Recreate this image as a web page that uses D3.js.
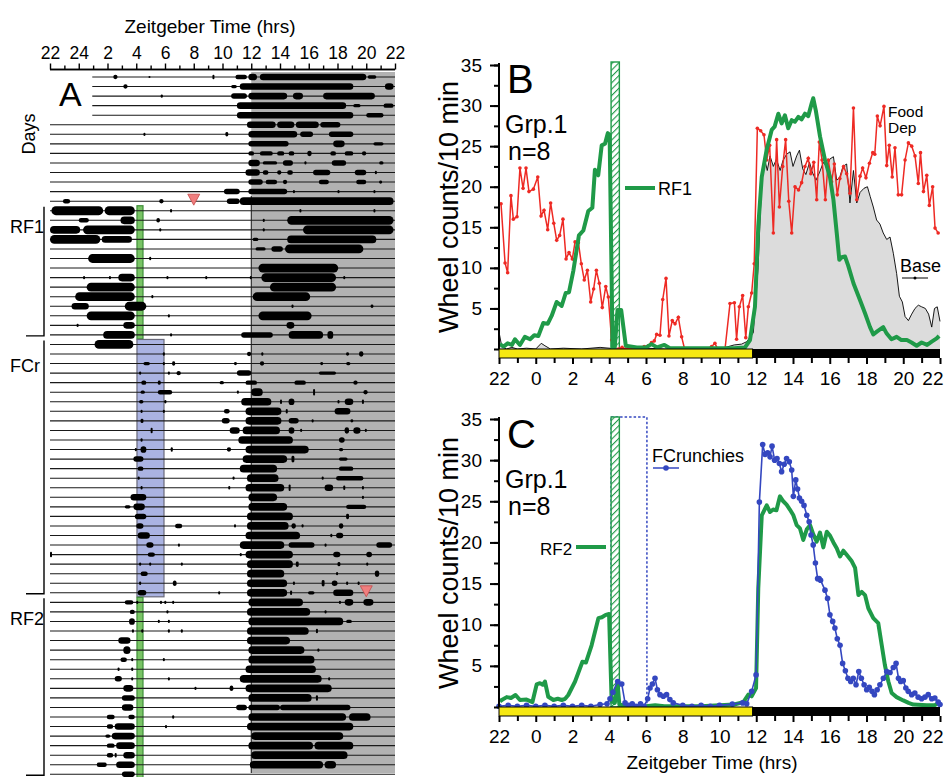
<!DOCTYPE html>
<html><head><meta charset="utf-8">
<script src="https://cdn.jsdelivr.net/npm/d3@7"></script>
<style>
body{margin:0;background:#fff;}
svg{display:block;font-family:"Liberation Sans",Arial,sans-serif;}
</style></head>
<body><svg id="fig" width="944" height="777"></svg>
<script>
// ---------------- DATA ----------------
// Panel A: actogram. Time in hours from ZT22 (-2) to ZT22 (22). Each bout: [start, end, intensity]
const actRows = [
 [[2.4,2.7,2],[4.85,4.95,1],[9.3,9.4,2],[10.9,11.7,2],[11.8,12.4,3],[12.6,20.0,3],[20.1,20.7,1.5]],
 [[3.1,3.4,2],[10.6,11.0,1.5],[11.2,19.1,3],[21.3,21.9,3]],
 [[5.7,5.85,1.5],[10.6,11.7,2.5],[11.8,14.5,3],[14.9,15.6,3],[17.0,20.6,3]],
 [[11.0,18.6,3],[19.1,19.6,1.5],[21.2,21.9,2]],
 [[11.0,19.1,3],[20.0,21.2,2]],
 [[11.7,13.7,3],[13.8,15.0,3],[15.1,16.7,3],[16.8,18.2,2.5]],
 [[4.5,4.6,1.5],[10.2,10.4,2],[11.8,15.2,3],[15.4,16.3,2.5],[17.4,19.1,2.5]],
 [[11.8,14.6,2.5],[17.7,18.5,3],[20.5,21.2,1.5]],
 [[11.8,12.2,2],[12.6,13.5,2],[13.8,14.3,2],[14.6,15.0,2],[15.9,16.2,2.5],[17.5,17.9,2],[18.5,19.1,2],[19.7,20.0,2]],
 [[11.8,12.6,3],[12.8,13.8,1.5],[14.2,14.9,2.5],[15.7,15.8,1.5],[17.6,18.6,2.5],[20.9,21.2,1.5]],
 [[11.6,12.6,3],[12.8,13.2,2],[13.8,14.1,2],[14.5,14.9,2],[16.3,17.5,2.5],[19.2,20.0,2.5],[20.6,20.7,1.5]],
 [[11.8,12.8,2.5],[13.0,13.8,2],[14.2,14.5,2],[16.7,17.4,2],[19.3,20.0,2],[20.9,21.1,1.5]],
 [[10.1,11.2,2.5],[11.8,14.5,2.5],[14.9,15.0,1.5],[18.0,18.1,1.5],[20.5,20.6,1.5]],
 [[-1.1,-0.6,2],[5.6,5.9,2],[10.3,11.2,2.5],[11.2,21.9,3.5]],
 // RF1
 [[-1.9,1.7,4],[1.8,3.9,4],[6.35,6.45,1.5],[15.35,15.45,1.5],[20.5,20.6,1.5]],
 [[0,0.7,2],[2.9,3.9,3.5],[5.4,5.65,2],[12.8,12.9,1.5],[14.5,21.9,4]],
 [[-2,0.1,3.5],[0.3,3.9,4],[5.6,5.7,1.5],[12.8,12.9,1.5],[15.6,21.9,4]],
 [[-2,1.5,4],[1.6,3.7,3],[12.1,12.5,1.5],[14.5,20.7,3.5]],
 [[12.3,13.0,1.5],[13.4,14.2,2.5],[14.35,19.8,4]],
 [[0.65,3.9,4],[4.9,5.0,1.5]],
 [[12.5,18.05,4]],
 [[0.3,0.4,1.5],[2.1,2.2,1.5],[2.75,3.9,3.5],[6.1,6.2,1.5],[8.8,8.9,1.5],[11.9,12.0,1.5],[12.7,17.9,4],[18.4,18.5,1.5]],
 [[0.55,3.9,4],[13.3,17.9,4]],
 [[-0.25,3.9,4],[5.05,5.15,1.5],[12.1,16.1,4]],
 [[-0.5,0.7,3],[3.2,4.7,4],[14.8,14.9,1.5],[20.3,20.5,1.5]],
 [[0.55,3.9,4],[6.2,6.3,1.5],[12.5,16.2,4]],
 [[-0.15,-0.05,1.5],[3.1,3.9,3],[14.45,15.0,3]],
 [[1.7,3.9,3.5],[6.35,6.45,1.5],[11.3,13.5,2.5],[14.6,17.0,3.5],[17.3,17.7,3.5]],
 // FCr
 [[1.1,3.8,4]],
 [[5.85,5.95,1.5],[11.7,12.0,2],[12.7,12.8,1.5],[18.6,18.8,1.5],[19.5,19.8,2.5]],
 [[4.5,4.95,1.5],[5.85,5.95,1.5],[6.5,6.7,2],[10.8,11.0,1.5],[12.6,12.9,2],[16.8,17.0,1.5],[18.6,18.9,1.5]],
 [[4.2,4.3,1.5],[6.2,6.3,1.5],[6.8,7.1,2],[11.0,12.0,2.5],[16.7,17.9,1.5]],
 [[4.35,4.7,2],[5.5,5.7,2],[9.8,10.1,1.5],[11.6,12.4,2],[15.0,15.8,2],[19.1,19.4,2]],
 [[4.3,4.6,1.5],[5.5,6.5,2],[11.0,11.1,1.5],[12.0,12.8,3.5],[16.3,16.4,3],[19.8,20.1,2]],
 [[4.2,4.5,1.5],[5.95,6.1,1.5],[11.3,13.4,3.5],[14.0,14.1,2],[14.6,15.0,3],[18.0,18.1,1.5],[18.5,19.1,3],[19.7,19.8,2]],
 [[4.3,4.4,1.5],[5.85,5.95,1.5],[10.1,10.5,2],[11.6,14.1,3.5],[14.4,14.5,2],[17.8,18.9,3]],
 [[4.3,4.5,2],[9.95,10.5,2.5],[11.6,14.1,3.5],[14.6,15.3,2.5],[16.2,16.3,1.5],[18.9,19.1,1.5]],
 [[5.0,5.1,2.5],[10.5,11.2,3],[11.4,14.0,3.5],[14.6,15.0,3],[15.4,15.5,1.5],[18.5,18.8,3],[19.1,19.6,3],[19.9,20.0,1.5]],
 [[4.3,4.4,1.5],[11.1,14.9,3.5],[18.1,18.5,2.5]],
 [[3.9,4.0,1.5],[4.3,4.7,3],[6.4,6.5,2],[10.3,10.6,2],[11.6,16.0,3.5],[18.1,18.4,1.5]],
 [[3.8,4.5,2.5],[11.4,14.5,3.5],[14.8,15.0,3],[18.1,18.7,1.5]],
 [[4.1,4.5,2],[11.2,13.8,3.5],[18.1,19.1,2]],
 [[4.1,4.2,1.5],[10.7,10.8,1.5],[11.7,13.9,3.5],[16.9,17.0,1.5],[17.9,19.8,2]],
 [[4.3,4.4,1.5],[10.4,10.5,1.5],[11.6,14.3,3.5],[14.6,14.7,3],[17.1,17.7,3],[18.4,18.5,2],[19.7,19.8,1.5]],
 [[3.6,4.7,3],[11.8,13.8,3.5],[19.7,19.8,1.5]],
 [[3.2,3.6,1.5],[3.8,4.6,3],[11.8,14.5,3.5],[18.6,20.0,2]],
 [[3.9,4.7,2.5],[11.7,14.9,3.5],[18.6,18.8,2.5]],
 [[4.0,4.5,2.5],[6.7,7.2,2],[10.8,10.9,1.5],[11.7,14.6,3.5],[14.8,15.1,2.5],[15.5,15.6,1.5],[18.1,18.4,2.5]],
 [[4.1,4.95,3],[11.6,15.4,3.5],[17.5,17.6,1.5],[17.9,18.4,2.5]],
 [[4.7,5.2,2.5],[6.9,7.0,1.5],[11.2,14.3,3.5],[14.6,16.4,2.5],[17.1,17.2,1.5],[20.7,21.8,2.5]],
 [[-2,-1.9,2.5],[4.8,5.3,2],[11.2,11.3,1.5],[11.6,14.9,3.5],[17.7,18.2,2.5],[20.0,20.4,2.5]],
 [[4.2,4.3,1.5],[4.9,5.0,1.5],[7.1,7.2,1.5],[11.7,14.9,3.5],[15.1,15.3,2.5],[18.0,18.2,2],[20.0,20.1,1.5]],
 [[4.3,4.8,2],[11.7,14.3,3.5],[17.9,18.0,1.5],[20.6,20.9,3]],
 [[4.2,4.3,1.5],[6.55,6.8,2.5],[11.7,14.5,3.5],[14.9,15.0,1.5],[16.9,17.1,3],[17.6,18.0,2.5],[18.6,18.7,1.5],[19.4,19.5,1.5]],
 [[4.1,4.7,2.5],[9.7,9.8,1.5],[11.7,14.5,3.5],[14.7,14.8,2],[15.95,16.4,1.5],[17.7,19.1,3]],
 // RF2
 [[3.2,3.8,2],[4.0,4.1,1.5],[5.65,5.75,1.5],[5.95,6.05,1.5],[6.5,6.6,1.5],[11.8,15.6,3.5],[18.1,18.2,1.5],[18.5,19.1,3],[19.8,20.5,3]],
 [[3.55,3.9,2],[6.1,6.2,1.5],[11.7,16.1,3.5],[17.1,17.2,1.5]],
 [[3.5,3.9,3],[5.5,5.6,1.5],[6.2,6.3,1.5],[11.8,18.4,3.5],[18.6,19.0,1.5]],
 [[3.7,3.8,1.5],[4.35,4.45,1.5],[6.2,6.3,1.5],[7.1,7.2,1.5],[11.7,16.0,3.5],[16.5,16.6,2]],
 [[2.75,3.6,3],[11.7,14.7,3.5]],
 [[3.1,3.6,3.5],[11.8,15.7,3.5],[16.6,16.7,1.5]],
 [[2.9,3.35,2],[3.65,3.75,1.5],[5.85,5.95,1.5],[11.8,16.4,3.5]],
 [[2.7,2.8,1.5],[3.65,3.75,1.5],[11.6,16.5,3.5]],
 [[2.5,3.0,2.5],[3.65,3.75,1.5],[6.2,6.3,1.5],[11.2,16.9,3.5],[17.35,17.45,1.5]],
 [[3.1,3.8,3],[8.05,8.15,1.5],[10.5,10.75,2.5],[11.6,17.6,3.5]],
 [[3.0,3.9,2.5],[11.8,16.2,3.5],[16.5,16.6,2.5]],
 [[3.0,3.8,3],[10.95,11.7,2.5],[11.8,14.0,2.5],[14.0,18.9,2.5]],
 [[1.95,2.5,2],[3.45,3.9,2],[6.5,6.6,1.5],[11.8,18.6,3.5],[18.8,20.3,3.5]],
 [[1.95,2.4,2],[2.5,3.9,3],[6.0,6.1,1.5],[11.7,19.1,3.5]],
 [[1.85,2.2,1.5],[2.3,3.9,3],[12.0,18.4,3.5]],
 [[1.95,2.5,2],[2.6,3.9,3],[11.8,16.3,3.5],[16.4,19.1,3.5]],
 [[1.95,2.4,2],[2.5,2.6,2],[3.1,3.9,3],[12.0,18.7,3.5]],
 [[1.25,1.95,2],[2.6,3.9,3],[11.9,17.0,3.5],[17.1,17.9,3.5]],
 [[3.0,3.9,2.5]]
];
const lateStartRows = 5;          // first rows recorded from ZT ~1
const lateStartTime = 0.94;
const groups = [
 {label:"RF1", first:14, last:27},
 {label:"FCr", first:28, last:54},
 {label:"RF2", first:55, last:73}
];
const feedBars = [ // [start, end, firstRow, lastRow, kind]
 [4.05,4.47,14,27,"rf"],
 [4.05,5.93,28,54,"fc"],
 [4.05,4.47,55,73,"rf"]
];
const markers = [[8,13],[20,54]]; // [time,row]
const aTicks = [-2,0,2,4,6,8,10,12,14,16,18,20,22];
const aTickLabels = ["22","24","2","4","6","8","10","12","14","16","18","20","22"];
const bTickLabels = ["22","0","2","4","6","8","10","12","14","16","18","20","22"];

// Panel B
const foodDep = [[-1.89,17.9],[-1.67,10.6],[-1.53,9.4],[-1.35,18.9],[-1.22,16.0],[-1.02,16.3],[-0.86,22.3],[-0.69,19.8],[-0.53,22.3],[-0.37,19.4],[-0.13,19.7],[0.11,21.2],[0.29,16.4],[0.45,17.1],[0.65,14.7],[0.81,18.0],[0.98,15.5],[1.14,13.4],[1.30,14.0],[1.48,16.0],[1.65,11.1],[1.81,11.9],[1.99,11.1],[2.14,13.2],[2.32,13.1],[2.48,10.5],[2.64,8.5],[2.81,9.7],[2.99,5.8],[3.15,7.4],[3.30,9.7],[3.46,8.1],[3.62,5.1],[3.81,7.7],[3.95,6.4],[4.13,1.1],[4.3,0],[4.5,0],[4.7,0.2],[4.9,0],[5.1,0],[5.3,0],[5.5,0.1],[5.7,0],[5.9,0.3],[6.13,0.4],[6.3,0.8],[6.45,1.0],[6.58,1.8],[6.76,1.7],[6.91,6.1],[7.09,8.7],[7.25,1.6],[7.43,3.5],[7.58,3.1],[7.76,3.9],[7.94,1.5],[8.1,0],[8.3,0],[8.5,0],[8.7,0],[8.9,0],[9.1,0],[9.3,0],[9.57,0.3],[9.75,0.7],[9.9,0],[10.1,0],[10.3,0],[10.57,5.6],[10.81,5.7],[10.93,1.2],[11.08,5.2],[11.26,6.6],[11.43,1.4],[11.57,5.2],[11.75,6.9],[11.89,10.5],[12.06,27.2],[12.24,26.9],[12.42,26.4],[12.57,23.3],[12.73,25.1],[12.93,14.3],[13.11,25.8],[13.26,17.5],[13.44,22.5],[13.6,25.8],[13.77,18.2],[13.93,14.3],[14.11,20.0],[14.3,19.6],[14.47,20.5],[14.65,22.5],[14.83,23.5],[14.97,21.6],[15.13,23.0],[15.29,18.4],[15.43,25.5],[15.58,23.3],[15.76,18.4],[15.92,23.3],[16.1,20.6],[16.25,22.8],[16.41,19.0],[16.55,21.0],[16.75,22.5],[16.92,21.6],[17.1,19.2],[17.29,29.7],[17.47,18.4],[17.65,21.3],[17.79,22.3],[17.97,21.1],[18.16,22.9],[18.34,24.2],[18.45,24.0],[18.59,28.7],[18.74,27.5],[18.95,29.9],[19.1,22.6],[19.24,25.1],[19.4,21.2],[19.55,24.8],[19.73,19.0],[19.91,19.0],[20.1,23.3],[20.28,25.4],[20.46,25.0],[20.64,23.8],[20.82,20.4],[20.94,24.2],[21.1,19.4],[21.28,21.4],[21.42,17.7],[21.6,20.0],[21.73,14.9],[21.9,14.3]];
const base = [[-2,2.1],[-1.85,0.3],[-1.6,0],[-1.3,0.2],[-1.0,0],[-0.5,0.1],[0,0],[0.3,0.7],[0.5,0.4],[0.8,0],[1.5,0.1],[2.5,0],[3.5,0.2],[4.5,0],[6,0.1],[7,0],[8,0],[9,0.1],[10,0],[10.8,0.5],[11.2,0.6],[11.48,0.9],[11.84,2.0],[12.1,10],[12.3,21],[12.45,23.5],[12.6,22.0],[12.75,23.8],[12.93,22.5],[13.1,23.4],[13.3,22.0],[13.45,23.2],[13.65,24.0],[13.84,24.3],[14.0,22.5],[14.2,23.8],[14.35,24.5],[14.53,22.2],[14.7,21.5],[14.9,23.0],[15.05,21.8],[15.25,20.8],[15.45,21.8],[15.65,23.0],[15.85,22.4],[16.0,23.4],[16.2,23.7],[16.38,20.8],[16.55,21.2],[16.72,22.5],[16.92,22.8],[17.1,18.0],[17.29,22.0],[17.47,18.0],[17.65,19.3],[17.86,19.8],[18.05,20.0],[18.2,18.8],[18.37,17.5],[18.55,15.9],[18.73,15.4],[18.91,14.3],[19.1,13.5],[19.28,13.8],[19.46,11.8],[19.64,9.3],[19.79,6.5],[19.95,5.8],[20.1,4.0],[20.28,3.5],[20.46,4.3],[20.64,5.0],[20.82,5.4],[21.0,5.2],[21.2,5.0],[21.38,4.3],[21.55,2.7],[21.7,5.0],[21.85,5.2],[22,3.4]];
const rf1 = [[-1.95,0.6],[-1.75,0.3],[-1.53,0.7],[-1.3,0.5],[-1.13,1.2],[-0.86,0.5],[-0.59,1.5],[-0.31,1.2],[-0.08,1.7],[0.14,1.6],[0.41,3.2],[0.65,3.1],[0.87,4.1],[1.14,5.8],[1.41,5.3],[1.63,6.9],[1.81,7.0],[2.05,9.7],[2.35,14.0],[2.59,14.6],[2.86,17.0],[3.08,17.4],[3.22,22.1],[3.4,21.4],[3.59,25.1],[3.77,25.3],[3.92,26.6],[4.02,26.4],[4.18,0.3],[4.3,0.2],[4.45,4.8],[4.65,4.8],[4.9,0.4],[5.5,0.2],[6.0,0.2],[6.3,0.6],[6.6,0.2],[7.0,0.5],[7.3,0.1],[8,0.1],[9,0.1],[10,0.1],[10.8,0.1],[11.39,0.2],[11.66,1.1],[11.93,5.2],[12.11,15.1],[12.3,21.2],[12.57,24.6],[12.84,27.0],[13.0,27.4],[13.2,29.0],[13.38,27.8],[13.56,28.8],[13.74,27.2],[13.93,28.2],[14.1,28.0],[14.29,28.6],[14.47,28.3],[14.65,29.0],[14.83,28.7],[15.02,30.3],[15.1,30.9],[15.24,29.4],[15.47,26.2],[15.74,23.3],[16.01,21.2],[16.2,18.4],[16.38,14.3],[16.52,11.0],[16.65,11.3],[16.83,11.4],[17.0,10.3],[17.29,8.1],[17.65,6.0],[17.92,4.4],[18.19,2.7],[18.37,1.8],[18.6,2.2],[18.91,2.7],[19.1,1.9],[19.36,1.2],[19.64,1.5],[19.9,1.1],[20.2,1.1],[20.45,0.8],[20.73,0.4],[21.0,0.8],[21.3,0.5],[21.55,0.9],[21.82,1.3],[21.95,1.6]];

// Panel C
const rf2 = [[-1.95,0.7],[-1.85,0.85],[-1.58,1.2],[-1.35,1.1],[-1.1,1.46],[-0.86,0.85],[-0.5,0.9],[-0.18,0.6],[0.05,2.75],[0.23,2.9],[0.38,2.7],[0.5,3.1],[0.68,1.25],[0.96,0.85],[1.2,1.0],[1.41,0.85],[1.6,1.0],[1.77,1.46],[2.14,3.1],[2.54,5.5],[2.73,5.4],[3.04,7.5],[3.41,10.8],[3.6,10.9],[3.81,11.2],[3.99,11.3],[4.13,0.7],[4.3,0.5],[4.45,2.8],[4.55,0.3],[5,0.1],[6,0.1],[6.5,0.2],[7,0.1],[8,0.1],[9,0.1],[10,0.2],[10.8,0.3],[11.3,0.6],[11.57,1.5],[11.75,1.3],[11.99,2.3],[12.11,14.4],[12.3,23.3],[12.57,24.5],[12.75,23.7],[12.92,24.0],[13.1,23.9],[13.29,25.6],[13.47,25.0],[13.65,24.6],[13.83,24.0],[14.02,23.3],[14.2,22.1],[14.38,21.7],[14.56,20.3],[14.75,21.6],[14.93,22.1],[15.1,21.0],[15.29,20.1],[15.47,21.2],[15.65,19.4],[15.84,21.3],[16.02,20.8],[16.2,20.0],[16.38,19.3],[16.56,18.3],[16.74,19.0],[16.92,18.5],[17.2,17.7],[17.38,16.9],[17.56,13.6],[17.74,14.0],[17.92,13.6],[18.1,12.0],[18.37,10.8],[18.64,10.2],[18.83,7.5],[19.0,5.1],[19.19,3.1],[19.37,1.7],[19.64,1.2],[20.0,0.8],[20.29,0.5],[20.55,0.3],[21.28,0.2],[21.7,0.2],[22,0.6]];
const fcrunch = [[-2,0.1],[-1.5,0.2],[-1,0.1],[-0.5,0.2],[0,0.1],[0.5,0.2],[1,0.1],[1.5,0.2],[2,0.1],[2.5,0.2],[3,0.1],[3.5,0.3],[3.88,0.4],[4.04,1.0],[4.2,1.8],[4.46,3.1],[4.68,2.8],[4.86,0.5],[5.04,0.2],[5.25,0.4],[5.45,0.1],[5.7,0.4],[5.9,0.1],[6.09,1.0],[6.22,2.3],[6.35,2.8],[6.49,3.5],[6.62,2.1],[6.76,1.5],[6.94,1.3],[7.12,1.5],[7.3,0.9],[7.48,0.5],[8,0.2],[8.5,0.1],[9,0.2],[9.5,0.1],[10,0.2],[10.7,0.35],[11.26,0.5],[11.48,0.4],[11.75,1.9],[11.99,3.9],[12.17,24.9],[12.35,31.9],[12.48,30.7],[12.62,30.9],[12.75,30.4],[12.86,31.7],[13.0,30.0],[13.13,30.2],[13.26,29.6],[13.38,28.6],[13.52,29.5],[13.65,30.2],[13.8,29.8],[13.93,28.8],[14.02,25.6],[14.15,27.6],[14.25,26.5],[14.35,25.4],[14.47,25.0],[14.6,24.5],[14.75,23.3],[14.88,22.5],[14.98,20.9],[15.1,19.7],[15.22,17.5],[15.34,15.6],[15.42,15.6],[15.5,15.4],[15.74,14.2],[15.88,13.2],[16.01,11.2],[16.16,10.4],[16.28,9.6],[16.41,8.3],[16.56,7.5],[16.7,5.3],[16.85,4.4],[16.99,3.5],[17.14,3.1],[17.28,3.5],[17.43,2.7],[17.58,4.3],[17.72,3.5],[17.87,2.7],[18.01,2.1],[18.15,2.4],[18.3,1.9],[18.43,1.5],[18.58,2.1],[18.73,2.7],[18.92,3.5],[19.1,4.3],[19.28,4.2],[19.46,4.8],[19.61,5.3],[19.74,3.5],[19.86,3.1],[20.0,3.2],[20.14,2.3],[20.27,1.9],[20.46,1.5],[20.63,1.7],[20.81,1.2],[21.0,1.0],[21.18,1.2],[21.36,1.5],[21.55,1.0],[21.72,1.1],[21.9,0.6],[22,0.3]];
const lightsOff = 11.8;
const hatchB = [4.1,4.55];
const fcBox = [4.1,6.05];

// ---------------- DRAW ----------------
const svg = d3.select("#fig");
const GREEN = "#1f9a48", RED = "#ee2a24", BLUE = "#3447c0";

const defs = svg.append("defs");
const pat = defs.append("pattern").attr("id","hatch").attr("patternUnits","userSpaceOnUse")
  .attr("width",4.5).attr("height",4.5).attr("patternTransform","rotate(45)");
pat.append("rect").attr("width",4.5).attr("height",4.5).attr("fill","#fff");
pat.append("line").attr("x1",0).attr("y1",0).attr("x2",0).attr("y2",4.5).attr("stroke",GREEN).attr("stroke-width",2.2);

// ---- Panel A ----
const xA = d3.scaleLinear().domain([-2,22]).range([50,395]);
const rowY = d3.scaleLinear().domain([0,73]).range([77,774.3]);
const hScale = d3.scaleLinear().domain([0,4]).range([0,4.4]);
const gA = svg.append("g");

gA.append("rect").attr("x",xA(12)).attr("y",72).attr("width",xA(22)-xA(12)).attr("height",701).attr("fill","#b2b2b2");
gA.append("line").attr("x1",xA(12)).attr("x2",xA(12)).attr("y1",196).attr("y2",773).attr("stroke","#111").attr("stroke-width",1);

feedBars.forEach(b=>{
  const top = rowY(b[2]) - 5, bot = rowY(b[3]) + 4;
  gA.append("rect").attr("x",xA(b[0])).attr("y",top).attr("width",xA(b[1])-xA(b[0])).attr("height",bot-top)
    .attr("fill", b[4]==="rf" ? "#79c465" : "#aab3e2")
    .attr("stroke", b[4]==="rf" ? "#3f8f3a" : "#6a6a7a").attr("stroke-width",1.2);
});

actRows.forEach((r,i)=>{
  const s = i < lateStartRows ? lateStartTime : -2;
  gA.append("line").attr("x1",xA(s)).attr("x2",xA(22)).attr("y1",rowY(i)).attr("y2",rowY(i))
    .attr("stroke","#1a1a1a").attr("stroke-width",1.1);
});
actRows.forEach((r,i)=>{
  gA.selectAll(null).data(r).join("rect")
    .attr("x",d=>xA(d[0]))
    .attr("width",d=>Math.max(2,xA(d[1])-xA(d[0])))
    .attr("y",d=>rowY(i)-hScale(d[2]))
    .attr("height",d=>2*hScale(d[2]))
    .attr("rx",d=>Math.min(hScale(d[2]),Math.max(1,(xA(d[1])-xA(d[0]))/2)))
    .attr("fill","#000");
});
markers.forEach(m=>{
  const cx = xA(m[0]), y0 = rowY(m[1]);
  gA.append("path").attr("d",`M${cx-6},${y0-7}L${cx+6},${y0-7}L${cx},${y0+4}Z`)
    .attr("fill","#f07e7e").attr("stroke","#c44a4a").attr("stroke-width",0.8);
});
const axA = d3.axisTop(xA).tickValues(aTicks).tickSize(6).tickPadding(5)
  .tickFormat((d,i)=>aTickLabels[i]);
const gAx = gA.append("g").attr("transform","translate(0,69.5)").call(axA);
gAx.append("g").call(d3.axisTop(xA).tickValues(d3.range(-1,22,2)).tickSize(4).tickFormat(""));
gAx.selectAll("path,line").attr("stroke","#000").attr("stroke-width",1.4);
gAx.selectAll(".domain").attr("d",`M${xA(-2)},0H${xA(22)}`);
gAx.selectAll("text").attr("font-size",17.5).attr("fill","#000").attr("font-family","Liberation Sans, Arial, sans-serif");
gA.append("text").attr("x",210).attr("y",33).attr("text-anchor","middle").attr("font-size",19).text("Zeitgeber Time (hrs)");
gA.append("text").attr("x",59).attr("y",106).attr("font-size",34).text("A");
gA.append("text").attr("transform","translate(35,134) rotate(-90)").attr("text-anchor","middle").attr("font-size",18).text("Days");
const labelY = {RF1:233, FCr:372, RF2:625};
groups.forEach(g=>{
  const top = rowY(g.first)-4, bot = rowY(g.last)+1;
  gA.append("path").attr("d",`M44,${top}V${bot}H26`).attr("fill","none").attr("stroke","#000").attr("stroke-width",1.4);
  gA.append("text").attr("x",10).attr("y",labelY[g.label]).attr("font-size",18).text(g.label);
});

// ---- Panels B & C ----
const xB = d3.scaleLinear().domain([-2,22]).range([499,940]);
function drawAxes(g, y, barTop, letter, letterY){
  g.append("rect").attr("x",xB(-2)).attr("y",barTop).attr("width",xB(lightsOff)-xB(-2)).attr("height",9)
    .attr("fill","#f6e812").attr("stroke","#000").attr("stroke-width",1);
  g.append("rect").attr("x",xB(lightsOff)).attr("y",barTop).attr("width",xB(22)-xB(lightsOff)).attr("height",9).attr("fill","#000");
  const ax = g.append("g").attr("transform",`translate(0,${barTop+9})`)
    .call(d3.axisBottom(xB).tickValues(aTicks).tickSize(6).tickPadding(8).tickFormat((d,i)=>bTickLabels[i]));
  ax.append("g").call(d3.axisBottom(xB).tickValues(d3.range(-1,22,2)).tickSize(5).tickFormat(""));
  ax.selectAll(".domain").remove();
  ax.selectAll("line").attr("stroke","#000").attr("stroke-width",2);
  ax.selectAll("text").attr("font-size",19).attr("fill","#000").attr("font-family","Liberation Sans, Arial, sans-serif");
  // keep the last label inside the picture, as in the reference
  ax.selectAll(".tick text").filter(d=>d===22).attr("text-anchor","end").attr("dx",3);
  const ay = g.append("g").attr("transform",`translate(${xB(-2)},0)`)
    .call(d3.axisLeft(y).tickValues([5,10,15,20,25,30,35]).tickSize(9).tickSizeOuter(0).tickPadding(8));
  ay.append("g").call(d3.axisLeft(y).tickValues(d3.range(0,35.1,2.5)).tickSize(5).tickFormat(""));
  ay.selectAll("path,line").attr("stroke","#000").attr("stroke-width",2);
  ay.selectAll(".domain").attr("d",`M0,${y(0)}V${y(35)-2}`);
  ay.selectAll("text").attr("font-size",19).attr("fill","#000").attr("font-family","Liberation Sans, Arial, sans-serif");
  const mid = (y(0)+y(35))/2;
  g.append("text").attr("transform",`translate(458,${mid}) rotate(-90)`).attr("text-anchor","middle")
    .attr("font-size",27).text("Wheel counts/10 min");
  g.append("text").attr("x",507).attr("y",letterY).attr("font-size",40).text(letter);
  g.append("text").attr("x",505).attr("y",letterY+40).attr("font-size",25).text("Grp.1");
  g.append("text").attr("x",508).attr("y",letterY+67).attr("font-size",25).text("n=8");
}
const lineGen = y => d3.line().x(d=>xB(d[0])).y(d=>y(d[1]));

// Panel B
const yB = d3.scaleLinear().domain([0,35]).range([349,65]);
const gB = svg.append("g");
gB.append("path").datum(base).attr("d",d3.area().x(d=>xB(d[0])).y0(yB(0)).y1(d=>yB(d[1]))).attr("fill","#dcdcdc");
gB.append("path").datum(base).attr("d",lineGen(yB)).attr("fill","none").attr("stroke","#000").attr("stroke-width",0.9);
gB.append("rect").attr("x",xB(hatchB[0])).attr("y",yB(35)-3).attr("width",xB(hatchB[1])-xB(hatchB[0])).attr("height",yB(0)-yB(35)+3)
  .attr("fill","url(#hatch)").attr("stroke",GREEN).attr("stroke-width",1.4);
gB.append("path").datum(foodDep).attr("d",lineGen(yB)).attr("fill","none").attr("stroke",RED).attr("stroke-width",1.5);
gB.selectAll(null).data(foodDep).join("circle").attr("cx",d=>xB(d[0])).attr("cy",d=>yB(d[1])).attr("r",1.8).attr("fill",RED);
gB.append("path").datum(rf1).attr("d",lineGen(yB)).attr("fill","none").attr("stroke",GREEN).attr("stroke-width",4).attr("stroke-linejoin","round");
drawAxes(gB, yB, 349, "B", 93);
gB.append("line").attr("x1",625).attr("x2",655).attr("y1",188).attr("y2",188).attr("stroke",GREEN).attr("stroke-width",4);
gB.append("text").attr("x",658).attr("y",195).attr("font-size",18).text("RF1");
gB.append("text").attr("x",888).attr("y",117).attr("font-size",15.5).text("Food");
gB.append("text").attr("x",888).attr("y",133).attr("font-size",15.5).text("Dep");
gB.append("text").attr("x",900).attr("y",272).attr("font-size",18).text("Base");
gB.append("line").attr("x1",902).attr("x2",928).attr("y1",278).attr("y2",278).attr("stroke","#000").attr("stroke-width",1);
gB.append("circle").attr("cx",915).attr("cy",278).attr("r",1.5).attr("fill","#000");

// Panel C
const yC = d3.scaleLinear().domain([0,35]).range([707,419]);
const gC = svg.append("g");
gC.append("rect").attr("x",xB(fcBox[0])).attr("y",yC(35)-2).attr("width",xB(fcBox[1])-xB(fcBox[0])).attr("height",yC(0)-yC(35)+2)
  .attr("fill","none").attr("stroke",BLUE).attr("stroke-width",1.5).attr("stroke-dasharray","2.5,2");
gC.append("rect").attr("x",xB(hatchB[0])).attr("y",yC(35)-2).attr("width",xB(hatchB[1])-xB(hatchB[0])).attr("height",yC(0)-yC(35)+2)
  .attr("fill","url(#hatch)").attr("stroke",GREEN).attr("stroke-width",1.4);
gC.append("path").datum(rf2).attr("d",lineGen(yC)).attr("fill","none").attr("stroke",GREEN).attr("stroke-width",4).attr("stroke-linejoin","round");
gC.append("path").datum(fcrunch).attr("d",lineGen(yC)).attr("fill","none").attr("stroke",BLUE).attr("stroke-width",1.6);
gC.selectAll(null).data(fcrunch).join("circle").attr("cx",d=>xB(d[0])).attr("cy",d=>yC(d[1])).attr("r",2.8).attr("fill",BLUE);
drawAxes(gC, yC, 707, "C", 448);
gC.append("text").attr("x",540).attr("y",555).attr("font-size",17).text("RF2");
gC.append("line").attr("x1",576).attr("x2",606).attr("y1",547).attr("y2",547).attr("stroke",GREEN).attr("stroke-width",4);
gC.append("text").attr("x",652).attr("y",462).attr("font-size",18).text("FCrunchies");
gC.append("line").attr("x1",653).attr("x2",679).attr("y1",468).attr("y2",468).attr("stroke",BLUE).attr("stroke-width",1.5);
gC.append("circle").attr("cx",666).attr("cy",468).attr("r",2.8).attr("fill",BLUE);
svg.append("text").attr("x",712).attr("y",769).attr("text-anchor","middle").attr("font-size",19).text("Zeitgeber Time (hrs)");
</script></body></html>
